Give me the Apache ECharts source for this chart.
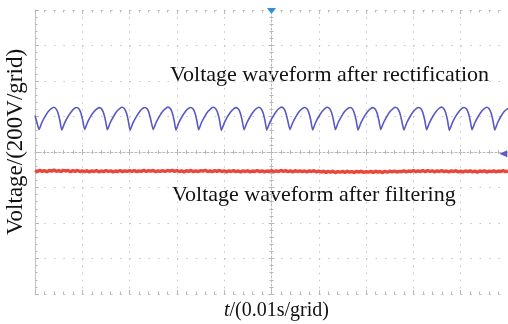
<!DOCTYPE html>
<html>
<head>
<meta charset="utf-8">
<script src="https://cdn.jsdelivr.net/npm/echarts@6/dist/echarts.min.js"></script>
<style>
  html, body { margin: 0; padding: 0; background: #ffffff; }
  #chart { width: 508px; height: 324px; }
</style>
</head>
<body>
<div id="chart"></div>
<script>
// Time axis: ms relative to the trigger point, 10 ms per grid (10 grids)
const timeTicks = { min: -50, max: 50, interval: 10 };
// Voltage axis: 200 V per grid (8 grids)
const voltTicks = { min: -800, max: 800, interval: 200 };

// Rectified voltage trace, [time ms, volts]
const rectifiedTrace = [
  [-50, 205], [-49.6, 168],
  [-49.15, 126], [-48.55, 166], [-47.85, 201], [-47.15, 229], [-46.55, 244], [-46.05, 252], [-45.55, 243], [-45.15, 221], [-44.75, 179],
  [-44.33, 124], [-43.73, 164], [-43.03, 199], [-42.33, 227], [-41.73, 245], [-41.23, 251], [-40.73, 244], [-40.33, 223], [-39.93, 181],
  [-39.5, 127], [-38.9, 167], [-38.2, 202], [-37.5, 228], [-36.9, 243], [-36.4, 250], [-35.9, 242], [-35.5, 220], [-35.1, 178],
  [-34.7, 125], [-34.1, 165], [-33.4, 200], [-32.7, 229], [-32.1, 245], [-31.6, 252], [-31.1, 244], [-30.7, 222], [-30.3, 180],
  [-29.9, 123], [-29.3, 163], [-28.6, 198], [-27.9, 227], [-27.3, 244], [-26.8, 251], [-26.3, 243], [-25.9, 221], [-25.5, 179],
  [-25.0, 126], [-24.4, 166], [-23.7, 201], [-23.0, 229], [-22.4, 245], [-21.9, 253], [-21.4, 245], [-21.0, 222], [-20.6, 180],
  [-20.2, 124], [-19.6, 165], [-18.9, 200], [-18.2, 228], [-17.6, 244], [-17.1, 251], [-16.6, 243], [-16.2, 221], [-15.8, 179],
  [-15.4, 125], [-14.8, 166], [-14.1, 201], [-13.4, 229], [-12.8, 245], [-12.3, 252], [-11.8, 244], [-11.4, 223], [-11.0, 181],
  [-10.6, 122], [-10.0, 163], [-9.3, 199], [-8.6, 227], [-8.0, 243], [-7.5, 250], [-7.0, 242], [-6.6, 220], [-6.2, 178],
  [-5.8, 125], [-5.2, 165], [-4.5, 200], [-3.8, 228], [-3.2, 244], [-2.7, 252], [-2.2, 244], [-1.8, 222], [-1.4, 180],
  [-1.0, 123], [-0.4, 164], [0.3, 199], [1.0, 228], [1.6, 245], [2.1, 253], [2.6, 245], [3.0, 223], [3.4, 181],
  [3.9, 126], [4.5, 166], [5.2, 201], [5.9, 229], [6.5, 244], [7.0, 251], [7.5, 243], [7.9, 221], [8.3, 179],
  [8.7, 124], [9.3, 165], [10.0, 200], [10.7, 228], [11.3, 245], [11.8, 252], [12.3, 244], [12.7, 222], [13.1, 180],
  [13.5, 125], [14.1, 166], [14.8, 201], [15.5, 229], [16.1, 244], [16.6, 251], [17.1, 243], [17.5, 220], [17.9, 178],
  [18.3, 123], [18.9, 164], [19.6, 199], [20.3, 227], [20.9, 243], [21.4, 250], [21.9, 242], [22.3, 221], [22.7, 179],
  [23.1, 126], [23.7, 166], [24.4, 201], [25.1, 229], [25.7, 245], [26.2, 252], [26.7, 244], [27.1, 222], [27.5, 180],
  [28.0, 124], [28.6, 165], [29.3, 200], [30.0, 228], [30.6, 244], [31.1, 251], [31.6, 243], [32.0, 221], [32.4, 179],
  [32.8, 125], [33.4, 165], [34.1, 200], [34.8, 228], [35.4, 245], [35.9, 253], [36.4, 245], [36.8, 223], [37.2, 181],
  [37.6, 122], [38.2, 163], [38.9, 199], [39.6, 227], [40.2, 244], [40.7, 251], [41.2, 243], [41.6, 221], [42.0, 179],
  [42.4, 125], [43.0, 165], [43.7, 200], [44.4, 228], [45.0, 244], [45.5, 252], [46.0, 244], [46.4, 222], [46.8, 180],
  [47.2, 124], [47.8, 165], [48.5, 200], [49.2, 228], [50, 246]
];

// Filtered voltage trace: sampled every 0.5 ms starting at -50 ms (volts)
const filteredStart = -50;
const filteredStep = 0.5;
const filteredVolts = [
  -104, -110, -103, -109, -105, -111, -104, -108, -102, -109, -105, -110, -103, -107, -104, -111, -105, -109, -104, -110, -106,
  -111, -105, -112, -106, -110, -104, -112, -107, -111, -105, -109, -106, -112, -107, -110, -104, -111, -106, -109, -105,
  -110, -104, -111, -106, -109, -103, -110, -105, -108, -104, -111, -106, -109, -105, -110, -104, -108, -103, -109, -105,
  -110, -106, -112, -105, -109, -104, -111, -106, -110, -105, -108, -103, -110, -106, -111, -105, -109, -104, -110, -106,
  -112, -106, -110, -105, -111, -107, -113, -106, -110, -105, -112, -107, -110, -104, -111, -106, -112, -107, -110, -105,
  -111, -106, -110, -104, -109, -105, -111, -106, -112, -105, -110, -106, -111, -107, -113, -106, -110, -105, -112, -107,
  -113, -108, -115, -109, -114, -108, -116, -110, -114, -109, -115, -108, -114, -110, -116, -109, -113, -108, -115, -110,
  -114, -109, -115, -108, -113, -110, -116, -109, -114, -108, -112, -107, -113, -109, -111, -106, -112, -107, -110, -105,
  -111, -106, -110, -104, -111, -105, -109, -106, -112, -106, -110, -105, -111, -107, -113, -106, -110, -105, -112, -108,
  -113, -107, -111, -106, -112, -108, -114, -107, -111, -106, -113, -108, -111, -106, -112, -107, -110, -105, -111, -106
];

// Scope markers: trigger time (top) and trigger level (right edge)
const triggerTime = 0;
const triggerLevel = -10;

const labels = {
  yName: 'Voltage/(200V/grid)',
  rectified: 'Voltage waveform after rectification',
  filtered: 'Voltage waveform after filtering'
};

const SERIF = '"Liberation Serif", "Times New Roman", serif';
const GRID_COLOR = '#c4c4c4';
const TICK_COLOR = '#b8b8b8';

const filteredTrace = filteredVolts.map((v, i) => [filteredStart + i * filteredStep, v]);

function frameX(extra) {
  return Object.assign({
    type: 'value',
    min: timeTicks.min, max: timeTicks.max, interval: timeTicks.interval,
    axisLabel: { show: false },
    splitLine: { show: false },
    axisLine: { show: true, onZero: false, lineStyle: { color: GRID_COLOR, width: 1, type: [1.5, 7.96] } },
    axisTick: { show: true, inside: true, length: 4, lineStyle: { color: TICK_COLOR } },
    minorTick: { show: true, splitNumber: 5, length: 2.5, lineStyle: { color: TICK_COLOR } }
  }, extra);
}

function frameY(extra) {
  return Object.assign({
    type: 'value',
    min: voltTicks.min, max: voltTicks.max, interval: voltTicks.interval,
    axisLabel: { show: false },
    splitLine: { show: false },
    axisLine: { show: true, onZero: false, lineStyle: { color: GRID_COLOR, width: 1 } },
    axisTick: { show: true, inside: true, length: 4, lineStyle: { color: TICK_COLOR } },
    minorTick: { show: true, splitNumber: 5, length: 2.5, lineStyle: { color: TICK_COLOR } }
  }, extra);
}

const chart = echarts.init(document.getElementById('chart'), null, { renderer: 'canvas' });

chart.setOption({
  animation: false,
  backgroundColor: '#ffffff',
  grid: { left: 35, right: 0, top: 10, bottom: 30, outerBoundsMode: 'none' },
  xAxis: [
    frameX({
      position: 'bottom',
      splitLine: { show: true, lineStyle: { color: GRID_COLOR, width: 1, type: [1.5, 5.6] } },
      name: '{i|t}/(0.01s/grid)',
      nameLocation: 'middle',
      nameGap: 7,
      nameTextStyle: {
        fontFamily: SERIF, fontSize: 20, color: '#111', verticalAlign: 'top',
        padding: [0, 0, 0, 10],
        rich: { i: { fontFamily: SERIF, fontSize: 20, fontStyle: 'italic', color: '#111' } }
      }
    }),
    frameX({ position: 'top' }),
    frameX({
      axisLine: { show: true, onZero: true, onZeroAxisIndex: 0, lineStyle: { color: TICK_COLOR, width: 1, type: [2, 2] } },
      axisTick: { show: true, inside: true, length: 3, lineStyle: { color: TICK_COLOR } },
      minorTick: { show: true, splitNumber: 5, length: 2, lineStyle: { color: TICK_COLOR } }
    }),
    frameX({
      axisLine: { show: false, onZero: true, onZeroAxisIndex: 0 },
      axisTick: { show: true, inside: false, length: 3, lineStyle: { color: TICK_COLOR } },
      minorTick: { show: true, splitNumber: 5, length: 2, lineStyle: { color: TICK_COLOR } }
    })
  ],
  yAxis: [
    frameY({
      position: 'left',
      splitLine: { show: true, lineStyle: { color: GRID_COLOR, width: 1, type: [1.5, 7.96] } },
      name: labels.yName,
      nameLocation: 'middle',
      nameRotate: 90,
      nameGap: 8,
      nameTextStyle: { fontFamily: SERIF, fontSize: 23, color: '#111', padding: [0, 0, 0, 20] }
    }),
    frameY({
      axisLine: { show: true, onZero: true, onZeroAxisIndex: 0, lineStyle: { color: TICK_COLOR, width: 1, type: [2, 2] } },
      axisTick: { show: true, inside: true, length: 3, lineStyle: { color: TICK_COLOR } },
      minorTick: { show: true, splitNumber: 5, length: 2, lineStyle: { color: TICK_COLOR } }
    }),
    frameY({
      axisLine: { show: false, onZero: true, onZeroAxisIndex: 0 },
      axisTick: { show: true, inside: false, length: 3, lineStyle: { color: TICK_COLOR } },
      minorTick: { show: true, splitNumber: 5, length: 2, lineStyle: { color: TICK_COLOR } }
    })
  ],
  graphic: [
    {
      type: 'text', left: 170, top: 64, silent: true,
      style: { text: labels.rectified, fontFamily: SERIF, fontSize: 22, fill: '#111' }
    },
    {
      type: 'text', left: 172, top: 184, silent: true,
      style: { text: labels.filtered, fontFamily: SERIF, fontSize: 22, fill: '#111' }
    }
  ],
  series: [
    {
      name: 'filtered',
      type: 'line',
      xAxisIndex: 0, yAxisIndex: 0,
      data: filteredTrace,
      showSymbol: false,
      lineStyle: { color: '#e8483a', width: 3.4 },
      z: 3
    },
    {
      name: 'rectified',
      type: 'line',
      xAxisIndex: 0, yAxisIndex: 0,
      data: rectifiedTrace,
      showSymbol: false,
      smooth: 0.15,
      lineStyle: { color: '#5858c6', width: 1.6 },
      z: 4,
      markPoint: {
        silent: true,
        label: { show: false },
        data: [
          { coord: [triggerTime, voltTicks.max], symbol: 'triangle', symbolRotate: 180, symbolSize: [9, 6], symbolOffset: [0, 1], itemStyle: { color: '#2f8fd8' } },
          { coord: [49, triggerLevel], symbol: 'triangle', symbolRotate: 90, symbolSize: [7, 8], itemStyle: { color: '#5a5ac8' } }
        ]
      }
    }
  ]
});
</script>
</body>
</html>
